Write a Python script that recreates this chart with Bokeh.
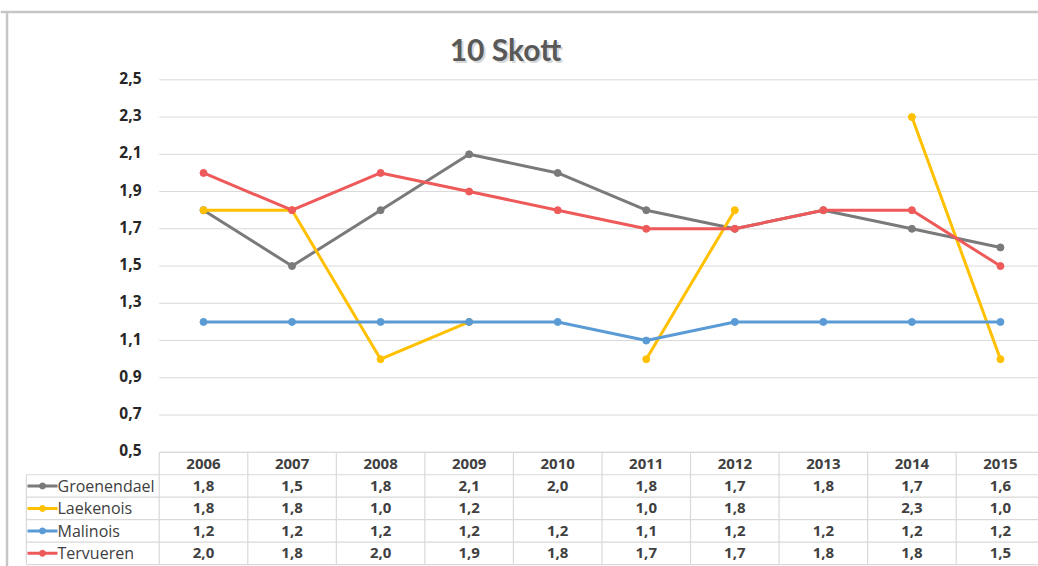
import math
from bokeh.plotting import figure
from bokeh.models import Range1d
from bokeh.core.properties import value
from bokeh.embed import file_html
from bokeh.resources import INLINE

# ---------------- data ----------------
years = ["2006", "2007", "2008", "2009", "2010", "2011", "2012", "2013", "2014", "2015"]
series_names = ["Groenendael", "Laekenois", "Malinois", "Tervueren"]
groenendael = [1.8, 1.5, 1.8, 2.1, 2.0, 1.8, 1.7, 1.8, 1.7, 1.6]
laekenois = [1.8, 1.8, 1.0, 1.2, float("nan"), 1.0, 1.8, float("nan"), 2.3, 1.0]
malinois = [1.2, 1.2, 1.2, 1.2, 1.2, 1.1, 1.2, 1.2, 1.2, 1.2]
tervueren = [2.0, 1.8, 2.0, 1.9, 1.8, 1.7, 1.7, 1.8, 1.8, 1.5]
y_ticks = [0.5, 0.7, 0.9, 1.1, 1.3, 1.5, 1.7, 1.9, 2.1, 2.3, 2.5]
y_tick_labels = ["0,5", "0,7", "0,9", "1,1", "1,3", "1,5", "1,7", "1,9", "2,1", "2,3", "2,5"]
title_text = "10 Skott"

series_values = [groenendael, laekenois, malinois, tervueren]
series_colors = ["#7a7a7a", "#FFC000", "#5B9BD5", "#EE5A5A"]

# ---------------- layout (page pixels -> data units) ----------------
W, H = 1038, 566
PAGE_OFF = 0
CAT0_PX, CAT_STEP = 203.0, 88.55   # page x of first category, px per category
Y25_PX, PX_PER_UNIT = 79.3, 186.25  # page y of value 2.5, px per value unit


def dx(page_x):
    return (page_x - CAT0_PX) / CAT_STEP


def dy(page_y):
    return 2.5 - (page_y - Y25_PX) / PX_PER_UNIT


x_range = Range1d(dx(PAGE_OFF), dx(PAGE_OFF + W))
y_range = Range1d(dy(PAGE_OFF + H), dy(PAGE_OFF))

p = figure(width=W, height=H, x_range=x_range, y_range=y_range,
           output_backend="svg", toolbar_location=None,
           x_axis_location=None, y_axis_location=None,
           min_border=0, outline_line_color=None,
           background_fill_color="white", border_fill_color="white")
p.grid.visible = False

FONT = value("Open Sans")
GRID = "#d9d9d9"

# chart border (top and left)
top_y = dy(11.5)
p.segment(x0=[x_range.start], x1=[x_range.end], y0=[top_y], y1=[top_y],
          line_color="#c6c6c6", line_width=2.5)
p.segment(x0=[dx(6.5)], x1=[dx(6.5)], y0=[y_range.start], y1=[top_y],
          line_color="#c6c6c6", line_width=2.5)

# gridlines
n = len(years)
p.segment(x0=[-0.5] * len(y_ticks), x1=[x_range.end] * len(y_ticks),
          y0=y_ticks, y1=y_ticks, line_color=GRID, line_width=1)

# y tick labels
p.text(x=[dx(141)] * len(y_ticks), y=y_ticks, text=y_tick_labels,
       text_align="right", text_baseline="middle", text_font=FONT,
       text_font_size="15.5px", text_font_style="bold", text_color="#262626",
       y_offset=-2)

# title with shadow
tx, ty = dx(505), dy(48)
p.text(x=[tx], y=[ty], text=[title_text], text_align="center", text_baseline="middle",
       text_font=value("Lato"), text_font_size="30px", text_font_style="bold",
       text_color="#000000", text_alpha=0.18, x_offset=2, y_offset=2)
p.text(x=[tx], y=[ty], text=[title_text], text_align="center", text_baseline="middle",
       text_font=value("Lato"), text_font_size="30px", text_font_style="bold",
       text_color="#595959")

# data table
ROW_H = 22.45 / PX_PER_UNIT
row_edges = [0.5 - k * ROW_H for k in range(len(series_names) + 2)]
bottom = row_edges[-1]
# horizontal lines
p.segment(x0=[-0.5], x1=[x_range.end], y0=[row_edges[0]], y1=[row_edges[0]],
          line_color=GRID, line_width=1.2)
p.segment(x0=[-2.0] * (len(row_edges) - 1), x1=[x_range.end] * (len(row_edges) - 1),
          y0=row_edges[1:], y1=row_edges[1:], line_color=GRID, line_width=1.2)
# vertical lines
col_edges = [i - 0.5 for i in range(n + 1)]
p.segment(x0=col_edges, x1=col_edges, y0=[row_edges[0]] * len(col_edges),
          y1=[bottom] * len(col_edges), line_color=GRID, line_width=1.2)
p.segment(x0=[-2.0], x1=[-2.0], y0=[row_edges[1]], y1=[bottom],
          line_color=GRID, line_width=1.2)

# header
xs = list(range(n))
p.text(x=xs, y=[0.5 - 0.5 * ROW_H] * n, text=years, text_align="center",
       text_baseline="middle", text_font=FONT, text_font_size="15px",
       text_font_style="bold", text_color="#404040")


def fmt(v):
    return "" if math.isnan(v) else f"{v:.1f}".replace(".", ",")


for k, (name, vals, col) in enumerate(zip(series_names, series_values, series_colors), start=1):
    yc = 0.5 - (k + 0.5) * ROW_H
    p.text(x=xs, y=[yc] * n, text=[fmt(v) for v in vals], text_align="center",
           text_baseline="middle", text_font=FONT, text_font_size="15px",
           text_font_style="bold", text_color="#404040")
    # legend key
    p.segment(x0=[dx(27)], x1=[dx(57)], y0=[yc], y1=[yc], line_color=col, line_width=3)
    p.scatter(x=[dx(42)], y=[yc], marker="circle", size=6, color=col)
    p.text(x=[dx(57)], y=[yc], text=[name], text_align="left", text_baseline="middle",
           text_font=FONT, text_font_size="16px", text_font_style="normal",
           text_color="#404040")

# series lines
for vals, col in zip(series_values, series_colors):
    p.line(x=xs, y=vals, line_color=col, line_width=3, line_join="round")
    pts = [(x, v) for x, v in zip(xs, vals) if not math.isnan(v)]
    p.scatter(x=[a for a, _ in pts], y=[b for _, b in pts], marker="circle",
              size=7, color=col)

open("out.html", "w").write(file_html(p, INLINE))
